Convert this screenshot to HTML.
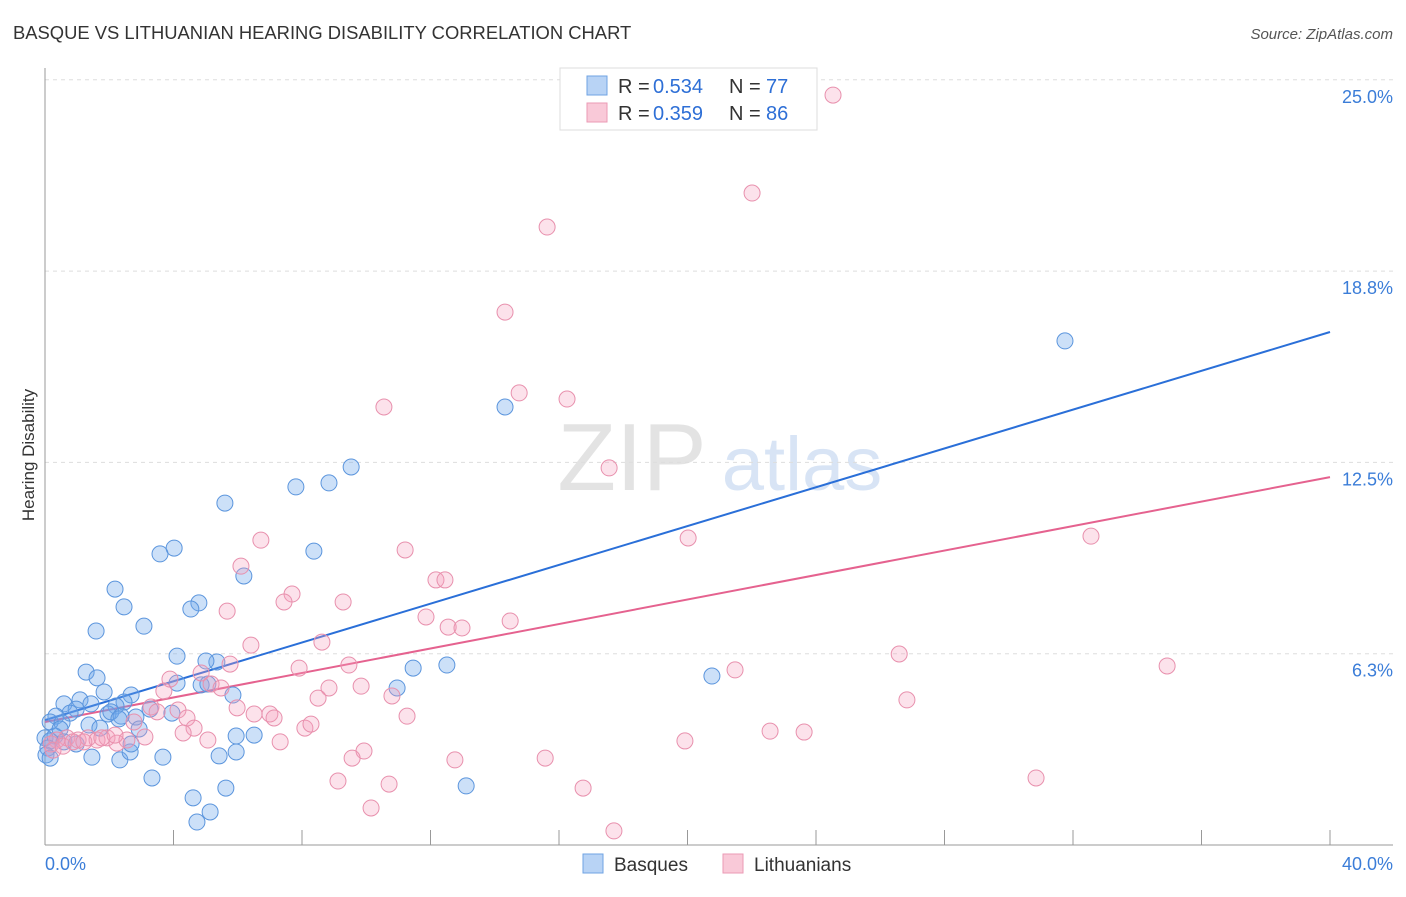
<!DOCTYPE html>
<html><head><meta charset="utf-8"><style>
body{margin:0;background:#fff;font-family:"Liberation Sans",sans-serif;}
svg text{font-family:"Liberation Sans",sans-serif;}
</style></head><body>
<svg id="chart" width="1406" height="892" xmlns="http://www.w3.org/2000/svg">
<text x="13" y="39" font-size="18.4" fill="#333">BASQUE VS LITHUANIAN HEARING DISABILITY CORRELATION CHART</text>
<text x="1393" y="39" font-size="15" fill="#555" font-style="italic" text-anchor="end">Source: ZipAtlas.com</text>
<g>
<text x="632" y="490" font-size="96" fill="#ddd" font-family="Liberation Serif" text-anchor="middle" opacity="0.8">ZIP</text>
<text x="802" y="490" font-size="76" fill="#c8daf2" text-anchor="middle" opacity="0.7">atlas</text>
</g>
<g id="grid"></g>
<g id="axes"></g>
<text transform="translate(34,455) rotate(-90)" font-size="17" fill="#333" text-anchor="middle">Hearing Disability</text>
<g id="trend"></g>
<g id="pts"></g>
<g>
<rect x="560" y="68" width="257" height="62" fill="#fff" stroke="#ddd"/>
<rect x="587" y="76" width="20" height="19" fill="#b8d3f5" stroke="#6fa3e3"/>
<rect x="587" y="103" width="20" height="19" fill="#f9c9d8" stroke="#eb9ab5"/>
<text x="618" y="93" font-size="20" fill="#333">R =</text>
<text x="653" y="93" font-size="20" fill="#2e6fd6">0.534</text>
<text x="729" y="93" font-size="20" fill="#333">N =</text>
<text x="766" y="93" font-size="20" fill="#2e6fd6">77</text>
<text x="618" y="120" font-size="20" fill="#333">R =</text>
<text x="653" y="120" font-size="20" fill="#2e6fd6">0.359</text>
<text x="729" y="120" font-size="20" fill="#333">N =</text>
<text x="766" y="120" font-size="20" fill="#2e6fd6">86</text>
</g>
<g>
<rect x="583" y="854" width="20" height="19" fill="#b8d3f5" stroke="#6fa3e3"/>
<text x="614" y="871" font-size="19" fill="#333">Basques</text>
<rect x="723" y="854" width="20" height="19" fill="#f9c9d8" stroke="#eb9ab5"/>
<text x="754" y="871" font-size="19" fill="#333">Lithuanians</text>
</g>
</svg>
<script>
const yTicks=[6.3,12.5,18.8,25.0];
const yTickVals=[6.25,12.5,18.75,25.0];
const xTickLabels=["0.0%","40.0%"];
const basqueX=[31.75,14.32,9.53,8.84,7.81,5.60,4.02,3.58,8.37,6.19,2.18,4.79,4.54,2.46,3.08,1.59,4.11,5.35,5.01,12.51,11.46,20.76,1.28,1.62,4.11,4.86,5.07,5.85,1.84,2.68,0.59,1.09,1.43,2.46,2.21,0.97,0.78,1.96,2.05,2.83,0.34,0.16,0.53,1.37,2.37,2.30,2.93,3.95,3.27,0.00,0.31,0.16,0.09,0.03,0.16,1.46,2.33,2.65,3.67,5.42,5.95,6.51,5.95,3.33,4.61,5.63,5.14,4.73,13.11,10.96,2.68,0.47,0.59,0.97,1.71];
const basqueY=[16.47,14.31,12.35,11.83,11.70,11.17,9.70,9.51,9.60,8.79,8.36,7.91,7.71,7.78,7.15,6.99,6.17,5.98,6.01,5.88,5.78,5.52,5.65,5.46,5.29,5.23,5.26,4.90,5.00,4.90,4.61,4.74,4.61,4.67,4.54,4.44,4.31,4.28,4.35,4.18,4.21,4.02,3.99,3.92,4.21,4.12,3.79,4.31,4.44,3.50,3.56,3.40,3.17,2.94,2.84,2.87,2.78,3.04,2.87,2.91,3.56,3.59,3.04,2.19,1.54,1.86,1.08,0.75,1.93,5.13,3.30,3.79,3.37,3.30,3.82];
const lithX=[24.53,22.01,15.63,14.32,14.76,16.25,10.55,17.56,32.56,20.02,11.21,6.72,6.10,12.17,12.45,7.69,7.44,9.28,5.67,11.86,12.55,12.98,14.48,8.62,6.41,26.59,21.48,34.93,5.76,9.46,4.86,7.91,5.17,3.89,3.70,5.48,9.84,8.84,8.50,10.80,26.83,5.98,3.30,3.49,4.14,6.51,7.00,7.13,11.27,4.42,2.77,8.09,8.28,4.64,4.30,5.07,7.32,22.57,23.63,19.92,0.68,1.03,1.34,1.62,1.93,2.24,2.55,0.37,0.19,0.25,9.93,9.56,12.76,15.57,9.12,10.71,16.75,30.85,10.15,17.71,0.56,0.87,1.21,1.77,2.18,3.11];
const lithY=[24.50,21.30,20.19,17.41,14.77,14.57,14.31,12.32,10.09,10.03,9.64,9.96,9.11,8.66,8.66,8.20,7.94,7.94,7.64,7.45,7.12,7.09,7.32,6.63,6.53,6.24,5.72,5.85,5.91,5.88,5.62,5.78,5.26,5.42,5.03,5.13,5.19,5.13,4.80,4.87,4.74,4.48,4.51,4.35,4.41,4.28,4.28,4.15,4.21,4.15,4.02,3.82,3.95,3.82,3.66,3.43,3.37,3.72,3.69,3.40,3.50,3.43,3.50,3.43,3.50,3.33,3.43,3.43,3.30,3.10,3.07,2.84,2.78,2.84,2.09,1.99,1.86,2.19,1.21,0.46,3.23,3.37,3.37,3.50,3.59,3.53];
const trendX=[0,40];
const basqueTrend=[4.08,16.76];
const lithTrend=[4.02,12.02];

const NS="http://www.w3.org/2000/svg";
const sx=v=>45+v/40*1285;
const sy=v=>845-v/6.25*191.3;
function mk(tag,attrs,parent){const e=document.createElementNS(NS,tag);for(const k in attrs)e.setAttribute(k,attrs[k]);parent.appendChild(e);return e;}
const grid=document.getElementById('grid'),axes=document.getElementById('axes');
yTickVals.forEach((v,i)=>{
 const l=mk('line',{x1:45,x2:1393,y1:sy(v),y2:sy(v),stroke:'#ddd','stroke-dasharray':'4,4'},grid);
 
 
 const t=mk('text',{x:1393,y:sy(v)+23,'font-size':18,fill:'#3b7dd8','text-anchor':'end'},axes);
 t.textContent=yTicks[i].toFixed(1)+'%';
 
 
});
const ya=mk('line',{x1:45,x2:45,y1:68,y2:845,stroke:'#999'},axes);


const xa=mk('line',{x1:45,x2:1393,y1:845,y2:845,stroke:'#999'},axes);


for(let i=0;i<=10;i++){const tk=mk('line',{x1:sx(i*4),x2:sx(i*4),y1:830,y2:845,stroke:'#999'},axes);
 
 }
const xl0=mk('text',{x:45,y:870,'font-size':18,fill:'#3b7dd8'},axes);xl0.textContent=xTickLabels[0];


const xl1=mk('text',{x:1393,y:870,'font-size':18,fill:'#3b7dd8','text-anchor':'end'},axes);xl1.textContent=xTickLabels[1];


const pts=document.getElementById('pts');
basqueX.forEach((x,i)=>{const c=mk('circle',{cx:sx(x),cy:sy(basqueY[i]),r:8,fill:'rgba(110,165,235,0.35)',stroke:'#5b95dd','stroke-width':1},pts);
 
 });
lithX.forEach((x,i)=>{const c=mk('circle',{cx:sx(x),cy:sy(lithY[i]),r:8,fill:'rgba(245,160,190,0.3)',stroke:'#e890ad','stroke-width':1},pts);
 
 });
const tr=document.getElementById('trend');
const bl=mk('line',{x1:sx(trendX[0]),y1:sy(basqueTrend[0]),x2:sx(trendX[1]),y2:sy(basqueTrend[1]),stroke:'#2a6fd8','stroke-width':2},tr);


const pl=mk('line',{x1:sx(trendX[0]),y1:sy(lithTrend[0]),x2:sx(trendX[1]),y2:sy(lithTrend[1]),stroke:'#e5628f','stroke-width':2},tr);


</script>
</body></html>
